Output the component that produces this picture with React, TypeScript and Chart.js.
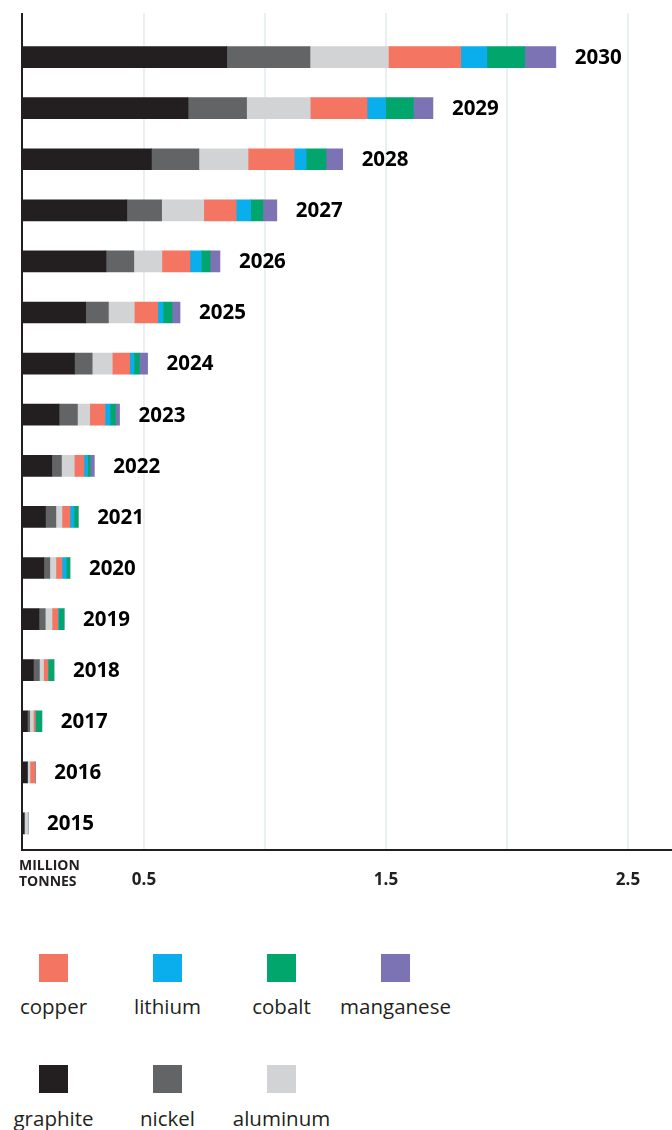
import React, { useEffect, useRef } from "react";
import { Chart, registerables } from "chart.js";

Chart.register(...registerables);

// ---- data (million tonnes), top row first ----
const years = ["2030", "2029", "2028", "2027", "2026", "2025", "2024", "2023", "2022", "2021", "2020", "2019", "2018", "2017", "2016", "2015"];
const graphite = [0.842, 0.682, 0.531, 0.429, 0.343, 0.259, 0.213, 0.149, 0.119, 0.093, 0.086, 0.066, 0.043, 0.018, 0.018, 0.005];
const nickel = [0.344, 0.242, 0.196, 0.144, 0.115, 0.094, 0.073, 0.076, 0.040, 0.043, 0.025, 0.026, 0.025, 0.010, 0.0, 0.0];
const aluminum = [0.324, 0.263, 0.203, 0.174, 0.116, 0.107, 0.083, 0.051, 0.053, 0.025, 0.025, 0.028, 0.017, 0.015, 0.011, 0.016];
const copper = [0.299, 0.235, 0.191, 0.134, 0.116, 0.097, 0.072, 0.063, 0.040, 0.033, 0.025, 0.024, 0.018, 0.008, 0.022, 0.0];
const lithium = [0.108, 0.077, 0.049, 0.060, 0.047, 0.022, 0.018, 0.021, 0.015, 0.017, 0.018, 0.003, 0.0, 0.0, 0.0, 0.0];
const cobalt = [0.156, 0.114, 0.082, 0.050, 0.036, 0.037, 0.022, 0.022, 0.010, 0.017, 0.015, 0.023, 0.025, 0.027, 0.0, 0.0];
const manganese = [0.129, 0.081, 0.069, 0.058, 0.041, 0.033, 0.034, 0.017, 0.018, 0.0, 0.0, 0.0, 0.0, 0.0, 0.0, 0.0];

const seriesNames = ["graphite", "nickel", "aluminum", "copper", "lithium", "cobalt", "manganese"];
const seriesValues = [graphite, nickel, aluminum, copper, lithium, cobalt, manganese];
const seriesColors = ["#231f20", "#636466", "#d1d3d4", "#f47562", "#0aaeec", "#00a66c", "#7b73b4"];

const tickValues = [0.5, 1, 1.5, 2, 2.5];
const tickLabels = ["0.5", "", "1.5", "", "2.5"];
const axisTitle = ["MILLION", "TONNES"];

const legendRow1 = ["copper", "lithium", "cobalt", "manganese"];
const legendRow2 = ["graphite", "nickel", "aluminum"];

const X_MIN = -0.004;
const X_MAX = 2.682;
const FONT = "'Open Sans', 'DejaVu Sans', sans-serif";
const INK = "#231f20";

const decorPlugin = {
  id: "decor",
  beforeDatasetsDraw(chart: any) {
    const { ctx, chartArea, scales } = chart;
    const x = scales.x;
    ctx.save();
    ctx.strokeStyle = "#e2ecef";
    ctx.lineWidth = 1.5;
    tickValues.forEach((v) => {
      const px = x.getPixelForValue(v);
      ctx.beginPath();
      ctx.moveTo(px, 13);
      ctx.lineTo(px, chartArea.bottom);
      ctx.stroke();
    });
    ctx.restore();
  },
  afterDatasetsDraw(chart: any) {
    const { ctx, chartArea, scales } = chart;
    const x = scales.x;
    const y = scales.y;
    ctx.save();
    // axis lines
    ctx.strokeStyle = INK;
    ctx.lineWidth = 2;
    ctx.beginPath();
    ctx.moveTo(chartArea.left, 13);
    ctx.lineTo(chartArea.left, chartArea.bottom + 1);
    ctx.lineTo(chartArea.right, chartArea.bottom + 1);
    ctx.stroke();

    // year labels at bar ends
    ctx.fillStyle = "#000";
    ctx.font = `700 20.5px ${FONT}`;
    ctx.textBaseline = "middle";
    ctx.textAlign = "left";
    years.forEach((yr, i) => {
      const total = seriesValues.reduce((s, arr) => s + arr[i], 0);
      const px = x.getPixelForValue(total) + 19;
      const py = y.getPixelForValue(i);
      ctx.fillText(yr, px, py + 1);
    });

    // axis title
    ctx.font = `700 14px ${FONT}`;
    ctx.fillStyle = INK;
    ctx.fillText(axisTitle[0], 19, chartArea.bottom + 17);
    ctx.fillText(axisTitle[1], 19, chartArea.bottom + 33);
    ctx.restore();
  },
};

export default function App() {
  const canvasRef = useRef<HTMLCanvasElement | null>(null);

  useEffect(() => {
    document.body.style.margin = "0";
    const canvas = canvasRef.current;
    if (!canvas) return;
    const chart = new Chart(canvas, {
      type: "bar",
      data: {
        labels: years,
        datasets: seriesNames.map((name, k) => ({
          label: name,
          data: seriesValues[k],
          backgroundColor: seriesColors[k],
          borderWidth: 0,
          barThickness: 21,
        })),
      },
      options: {
        indexAxis: "y",
        animation: false,
        responsive: true,
        maintainAspectRatio: false,
        layout: { padding: { left: 22, right: 0, top: 31.5, bottom: 0 } },
        plugins: {
          legend: { display: false },
          tooltip: { enabled: false },
        },
        scales: {
          x: {
            type: "linear",
            stacked: true,
            min: X_MIN,
            max: X_MAX,
            grid: { display: false },
            border: { display: false },
            afterBuildTicks: (scale: any) => {
              scale.ticks = tickValues.map((v) => ({ value: v }));
            },
            afterFit: (scale: any) => {
              scale.height = 51;
            },
            ticks: {
              autoSkip: false,
              maxRotation: 0,
              padding: 13,
              color: INK,
              font: { family: FONT, size: 17, weight: "bold" },
              callback: (_v: any, i: number) => tickLabels[i],
            },
          },
          y: {
            type: "category",
            stacked: true,
            display: false,
            grid: { display: false },
          },
        },
      },
      plugins: [decorPlugin],
    });
    return () => chart.destroy();
  }, []);

  const colorOf = (name: string) => seriesColors[seriesNames.indexOf(name)];
  const renderRow = (names: string[], squareTop: number, labelTop: number) =>
    names.map((name, k) => {
      const cx = 53.5 + 114 * k;
      return (
        <React.Fragment key={name}>
          <div
            style={{
              position: "absolute",
              left: cx - 14.5,
              top: squareTop,
              width: 29,
              height: 28,
              background: colorOf(name),
            }}
          />
          <div
            style={{
              position: "absolute",
              left: cx - 65,
              top: labelTop,
              width: 130,
              textAlign: "center",
              font: `400 20.5px ${FONT}`,
              lineHeight: "24px",
              color: INK,
            }}
          >
            {name}
          </div>
        </React.Fragment>
      );
    });

  return (
    <div style={{ position: "absolute", left: 0, top: 0, width: 672, height: 1130, background: "#fff", overflow: "hidden" }}>
      <div style={{ position: "absolute", left: 0, top: 0, width: 672, height: 900 }}>
        <canvas ref={canvasRef} />
      </div>
      {renderRow(legendRow1, 954, 994)}
      {renderRow(legendRow2, 1065, 1106)}
    </div>
  );
}
